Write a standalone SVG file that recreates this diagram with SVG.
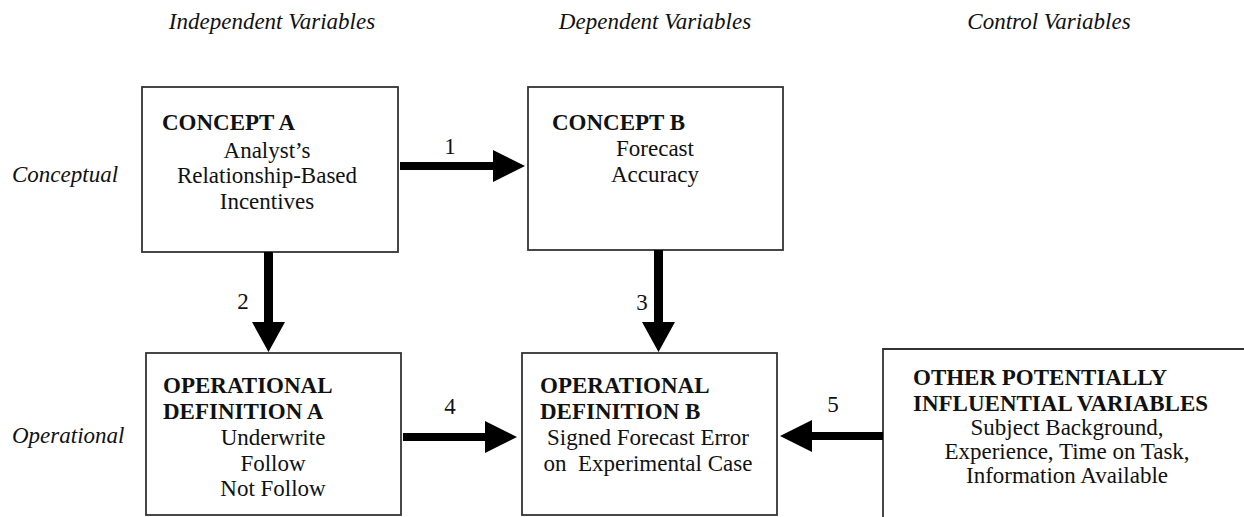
<svg xmlns="http://www.w3.org/2000/svg" width="1244" height="517" viewBox="0 0 1244 517">
  <style>
    text { font-family: "Liberation Serif", "Times New Roman", serif; font-size: 23px; fill: #111; }
    .hdr { font-style: italic; }
    .b { font-weight: bold; }
    .mid { text-anchor: middle; }
    .box { fill: #fff; stroke: #333; stroke-width: 1.8; }
    .arrow { fill: #000; }
  </style>

  <!-- column headings -->
  <g id="headings">
    <text class="hdr mid" x="272" y="29">Independent Variables</text>
    <text class="hdr mid" x="655" y="29">Dependent Variables</text>
    <text class="hdr mid" x="1049" y="29">Control Variables</text>
    <text class="hdr" x="12" y="182">Conceptual</text>
    <text class="hdr" x="12" y="443">Operational</text>
  </g>

  <g id="concept-a">
    <rect class="box" x="142" y="87" width="256" height="165"/>
    <text class="b" x="162" y="130">CONCEPT A</text>
    <text class="mid" x="267" y="158">Analyst’s</text>
    <text class="mid" x="267" y="183">Relationship-Based</text>
    <text class="mid" x="267" y="209">Incentives</text>
  </g>

  <g id="concept-b">
    <rect class="box" x="528" y="87" width="255" height="163"/>
    <text class="b" x="552" y="130">CONCEPT B</text>
    <text class="mid" x="655" y="156">Forecast</text>
    <text class="mid" x="655" y="182">Accuracy</text>
  </g>

  <g id="operational-a">
    <rect class="box" x="146" y="353" width="255" height="162"/>
    <text class="b" x="163" y="393">OPERATIONAL</text>
    <text class="b" x="163" y="419">DEFINITION A</text>
    <text class="mid" x="273" y="445">Underwrite</text>
    <text class="mid" x="273" y="471">Follow</text>
    <text class="mid" x="273" y="496">Not Follow</text>
  </g>

  <g id="operational-b">
    <rect class="box" x="522" y="353" width="255" height="162"/>
    <text class="b" x="540" y="393">OPERATIONAL</text>
    <text class="b" x="540" y="419">DEFINITION B</text>
    <text class="mid" x="648" y="445">Signed Forecast Error</text>
    <text class="mid" x="648" y="471" xml:space="preserve">on  Experimental Case</text>
  </g>

  <g id="other-variables">
    <path class="box" d="M883 520 V349 H1250"/>
    <text class="b" x="913" y="385">OTHER POTENTIALLY</text>
    <text class="b" x="913" y="411">INFLUENTIAL VARIABLES</text>
    <text class="mid" x="1067" y="435">Subject Background,</text>
    <text class="mid" x="1067" y="459">Experience, Time on Task,</text>
    <text class="mid" x="1067" y="483">Information Available</text>
  </g>

  <!-- block arrows between the boxes -->
  <g id="connectors">
    <!-- 1: concept A to concept B -->
    <polygon class="arrow" points="400,162 493,162 493,150 525,166 493,182 493,170 400,170"/>
    <text class="mid" x="450" y="154">1</text>
    <!-- 2: concept A to operational A -->
    <polygon class="arrow" points="264,252 273,252 273,322 285,322 268.5,352 252,322 264,322"/>
    <text class="mid" x="243" y="309">2</text>
    <!-- 3: concept B to operational B -->
    <polygon class="arrow" points="654,250 663,250 663,322 675,322 658.5,352 642,322 654,322"/>
    <text class="mid" x="642" y="310">3</text>
    <!-- 4: operational A to operational B -->
    <polygon class="arrow" points="403,433 485,433 485,421 517,437 485,453 485,441 403,441"/>
    <text class="mid" x="450" y="414">4</text>
    <!-- 5: other variables to operational B -->
    <polygon class="arrow" points="883,432 812,432 812,420 780,436 812,452 812,440 883,440"/>
    <text class="mid" x="833" y="412">5</text>
  </g>
</svg>
